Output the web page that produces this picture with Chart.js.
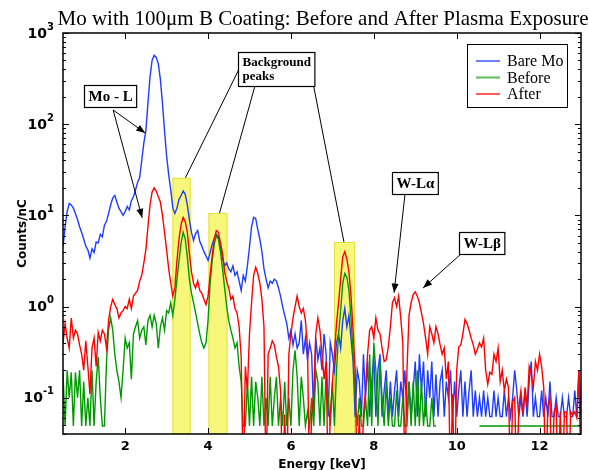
<!DOCTYPE html>
<html>
<head>
<meta charset="utf-8">
<title>Mo with 100μm B Coating: Before and After Plasma Exposure</title>
<script src="https://cdn.jsdelivr.net/npm/chart.js@4.4.1/dist/chart.umd.min.js"></script>
<style>
  html, body { margin: 0; padding: 0; background: #fff; }
  #wrap { width: 589px; height: 470px; }
</style>
</head>
<body>
<div id="wrap"><canvas id="spectrum" width="589" height="470"></canvas></div>
<script>
// detector channels: 0.5 keV .. 13 keV, 0.05 keV per bin
const ENERGY_START = 0.5;
const ENERGY_STEP = 0.05;

// counts/nC per bin (0.01 = empty bin, falls below the axis; null = no data)
const BARE_MO = [
  4.5, 7.5, 11, 13.5, 13, 12, 10.5, 9, 7.5, 6.5,          // 0.5
  5.5, 4.6, 4.2, 3.4, 4.3, 3.9, 5.1, 5.0, 6.2, 5.8,       // 1.0
  7.8, 8.6, 10.5, 13, 15.5, 16.5, 14, 12, 11, 10,         // 1.5
  11, 12.5, 11.5, 14.5, 16, 19, 23, 26, 40, 62,           // 2.0
  85, 170, 330, 500, 570, 540, 460, 310, 170, 85,         // 2.5
  45, 28, 19, 12, 10.5, 12, 15, 16.5, 18.5, 17,           // 3.0
  13, 9, 6.5, 5.3, 6.3, 6.8, 5.2, 4.6, 4.0, 3.6,          // 3.5
  3.2, 3.9, 4.8, 5.6, 6.2, 5.8, 4.6, 3.4, 2.8, 3.0,       // 4.0
  2.6, 2.4, 2.8, 2.2, 2.4, 1.9, 1.5, 2.2, 1.9, 2.8,       // 4.5
  4.5, 7.5, 9.5, 9.2, 7, 5.5, 4.0, 2.6, 2.0, 1.6,         // 5.0
  1.9, 1.8, 2.0, 1.9, 1.6, 1.3, 1.0, 0.8, 0.65, 0.45,     // 5.5
  0.55, 0.38, 0.5, 0.35, 0.4, 0.7, 0.3, 0.45, 0.26, 0.4,  // 6.0
  0.3, 0.062, 0.45, 0.26, 0.35, 0.2, 0.5, 0.3, 0.062, 0.4, // 6.5
  0.3, 0.2, 0.4, 0.5, 0.35, 0.7, 0.95, 0.6, 0.8, 0.45,    // 7.0
  0.25, 0.062, 0.2, 0.15, 0.062, 0.3, 0.1, 0.25, 0.062, 0.15, // 7.5
  0.3, 0.062, 0.2, 0.3, 0.062, 0.12, 0.2, 0.062, 0.15, 0.062, // 8.0
  0.12, 0.2, 0.062, 0.15, 0.1, 0.2, 0.062, 0.15, 0.062, 0.12, // 8.5
  0.25, 0.062, 0.3, 0.12, 0.25, 0.062, 0.2, 0.1, 0.25, 0.062, // 9.0
  0.18, 0.062, 0.15, 0.2, 0.062, 0.15, 0.1, 0.2, 0.062, 0.15, // 9.5
  0.062, 0.12, 0.2, 0.062, 0.15, 0.062, 0.12, 0.2, 0.062, 0.12, // 10.0
  0.062, 0.1, 0.062, 0.12, 0.062, 0.1, 0.062, 0.062, 0.12, 0.062, // 10.5
  0.1, 0.062, 0.062, 0.12, 0.062, 0.1, 0.062, 0.1, 0.2, 0.12,   // 11.0
  0.062, 0.1, 0.062, 0.12, 0.062, 0.15, 0.25, 0.062, 0.1, 0.062, // 11.5
  0.062, 0.12, 0.062, 0.1, 0.062, 0.15, 0.062, 0.062, 0.1, 0.062, // 12.0
  0.062, 0.1, 0.062, 0.062, 0.1, 0.062, 0.062, 0.12, 0.062, 0.2,  // 12.5
  0.062                                                    // 13.0
];

const BEFORE = [
  0.19, 0.049, 0.2, 0.1, 0.19, 0.049, 0.19, 0.1, 0.2, 0.049,   // 0.5
  0.15, 0.049, 0.1, 0.049, 0.2, 0.049, 0.15, 0.28, 0.1, 0.049, // 1.0
  0.049, 0.25, 0.55, 0.75, 0.55, 0.3, 0.2, 0.15, 0.1, 0.2,     // 1.5
  0.45, 0.35, 0.4, 0.16, 0.5, 0.6, 0.7, 0.45, 0.55, 0.6,       // 2.0
  0.38, 0.7, 0.8, 0.6, 0.8, 0.65, 0.35, 0.6, 0.75, 0.55,       // 2.5
  0.9, 0.85, 1.1, 0.8, 1.2, 2.0, 3.2, 5.0, 6.5, 5.5,           // 3.0
  3.5, 2.0, 1.4, 1.1, 0.85, 0.65, 0.5, 0.4, 0.35, 0.4,         // 3.5
  0.7, 1.8, 3.2, 4.8, 6.0, 5.5, 4.0, 2.6, 1.6, 1.0,            // 4.0
  0.7, 0.55, 0.45, 0.35, 0.4, 0.22, 0.15, 0.049, 0.049, 0.15,  // 4.5
  0.049, 0.17, 0.049, 0.15, 0.1, 0.049, 0.17, 0.049, 0.1, 0.049, // 5.0
  0.17, 0.049, 0.1, 0.17, 0.049, 0.1, 0.049, 0.15, 0.049, 0.1,   // 5.5
  0.049, 0.2, 0.33, 0.17, 0.049, 0.17, 0.1, 0.049, 0.07, 0.049,  // 6.0
  0.1, 0.049, 0.2, 0.15, 0.049, 0.17, 0.049, 0.2, 0.1, 0.049,    // 6.5
  0.15, 0.049, 0.2, 0.5, 0.9, 1.8, 2.3, 2.1, 1.5, 0.75,          // 7.0
  0.3, 0.1, 0.049, 0.1, 0.049, 0.049, 0.1, 0.049, 0.3, 0.049,    // 7.5
  0.4, 0.2, 0.049, 0.25, 0.1, 0.049, 0.15, 0.049, 0.1, 0.049,    // 8.0
  0.049, 0.12, 0.049, 0.049, 0.1, 0.049, 0.049, 0.15, 0.049, 0.15, // 8.5
  0.049, 0.2, 0.049, 0.15, 0.049, 0.1, 0.049, 0.049, 0.1, 0.049,   // 9.0
  0.049, null, null, null, null, null, null, null, null, null,     // 9.5
  null, null, null, null, null, null, null, null, null, null,      // 10.0
  null, 0.049, 0.049, 0.049, 0.049, 0.049, 0.049, 0.049, 0.049, 0.049, // 10.5
  0.049, 0.049, 0.049, 0.049, 0.049, 0.049, 0.049, 0.049, 0.049, 0.049, // 11.0
  0.049, 0.049, 0.049, 0.049, 0.049, 0.049, 0.049, 0.049, 0.049, 0.049, // 11.5
  0.049, 0.049, 0.049, 0.049, 0.049, 0.049, 0.049, 0.049, 0.049, 0.049, // 12.0
  0.049, 0.049, 0.049, 0.049, 0.049, 0.049, 0.049, 0.049, 0.049, 0.049, // 12.5
  0.049                                                                  // 13.0
];

const AFTER = [
  0.4, 0.65, 0.45, 0.35, 0.75, 0.45, 0.55, 0.5, 0.38, 0.3,     // 0.5
  0.2, 0.42, 0.22, 0.11, 0.35, 0.45, 0.22, 0.52, 0.42, 0.55,   // 1.0
  0.5, 0.35, 0.7, 1.0, 1.2, 1.05, 0.95, 0.75, 0.85, 0.9,       // 1.5
  1.0, 0.95, 1.2, 0.95, 1.3, 1.4, 1.5, 1.9, 2.2, 3.0,          // 2.0
  4.2, 7.5, 13, 18, 20, 18.5, 16, 14, 10, 6.5,                 // 2.5
  4.2, 2.6, 1.8, 1.3, 1.6, 3.2, 5.5, 8, 9.5, 8.5,              // 3.0
  6.5, 3.8, 2.4, 1.8, 1.6, 1.9, 1.5, 1.4, 1.2, 1.05,           // 3.5
  1.3, 2.2, 3.6, 5.5, 6.8, 6.5, 5.0, 3.8, 2.4, 1.9,            // 4.0
  1.6, 1.2, 1.3, 0.95, 0.85, 0.6, 0.28, 0.01, 0.22, 0.12,      // 4.5
  0.5, 1.1, 2.2, 2.7, 2.3, 1.8, 1.2, 0.6, 0.01, 0.3,           // 5.0
  0.35, 0.42, 0.38, 0.28, 0.22, 0.12, 0.01, 0.065, 0.01, 0.3,  // 5.5
  0.5, 0.75, 1.0, 1.3, 1.0, 0.85, 0.95, 0.7, 0.36, 0.01,       // 6.0
  0.065, 0.11, 0.5, 0.75, 0.55, 0.3, 0.16, 0.25, 0.01, 0.065,  // 6.5
  0.14, 0.3, 0.65, 1.1, 2.0, 3.5, 4.0, 3.3, 2.4, 1.3,          // 7.0
  0.55, 0.2, 0.01, 0.065, 0.01, 0.065, 0.12, 0.3, 0.55, 0.6,   // 7.5
  0.45, 0.75, 0.55, 0.5, 0.35, 0.25, 0.26, 0.36, 0.6, 1.1,     // 8.0
  1.25, 1.0, 1.3, 0.75, 0.4, 0.01, 0.2, 0.8, 1.1, 1.35,        // 8.5
  1.45, 1.3, 1.1, 0.85, 0.65, 0.45, 0.3, 0.6, 0.5, 0.4,        // 9.0
  0.6, 0.5, 0.38, 0.3, 0.35, 0.16, 0.25, 0.01, 0.11, 0.01,     // 9.5
  0.2, 0.36, 0.38, 0.5, 0.72, 0.65, 0.55, 0.45, 0.38, 0.3,     // 10.0
  0.34, 0.4, 0.36, 0.45, 0.2, 0.14, 0.19, 0.18, 0.3, 0.25,     // 10.5
  0.35, 0.15, 0.2, 0.12, 0.16, 0.13, 0.01, 0.09, 0.1, 0.01,    // 11.0
  0.08, 0.12, 0.065, 0.13, 0.08, 0.22, 0.18, 0.13, 0.25, 0.2,  // 11.5
  0.3, 0.22, 0.13, 0.01, 0.08, 0.1, 0.01, 0.07, 0.08, 0.01,    // 12.0
  0.07, 0.01, 0.07, 0.07, 0.01, 0.07, 0.065, 0.07, 0.06, 0.2,  // 12.5
  0.01                                                          // 13.0
];

const SERIES_LABELS = ['Bare Mo', 'Before', 'After'];
const SERIES_COLORS = ['#1f3cff', '#009a00', '#ff0000'];

const X_TICKS = [2, 4, 6, 8, 10, 12];
const Y_DECADES = [0.1, 1, 10, 100, 1000];
const Y_EXPONENTS = ['-1', '0', '1', '2', '3'];

// highlighted background lines: [from keV, to keV, top in counts/nC]
const BANDS = [[3.14, 3.58, 25.8], [4.01, 4.47, 10.6], [7.04, 7.55, 5.1]];

const SERIF = '"Liberation Serif", "Times New Roman", serif';
const SANS = '"DejaVu Sans", Verdana, sans-serif';

// callouts, all anchored in data coordinates (keV, counts/nC)
const NOTES = [
  { text: ['Mo - L'], size: 15, at: [1.64, 206], arrow: true,
    lines: [[1.71, 143, 2.485, 80], [1.71, 143, 2.41, 9.4]] },
  { text: ['Background', 'peaks'], size: 13, at: [5.645, 398], arrow: false,
    lines: [[4.737, 393, 3.454, 25.8], [5.125, 256, 4.277, 10.6], [6.553, 256, 7.28, 5.1]] },
  { text: ['W-Lα'], size: 15, at: [9.0, 22.7], arrow: true,
    lines: [[8.757, 17.7, 8.49, 1.42]] },
  { text: ['W-Lβ'], size: 15, at: [10.6, 5.0], arrow: true,
    lines: [[10.11, 3.79, 9.19, 1.6]] }
];

function toPoints(values) {
  return values.map(function (v, i) {
    return { x: +(ENERGY_START + i * ENERGY_STEP).toFixed(2), y: v };
  });
}

const bandPlugin = {
  id: 'bands',
  beforeDatasetsDraw: function (chart) {
    const ctx = chart.ctx, a = chart.chartArea, x = chart.scales.x, y = chart.scales.y;
    ctx.save();
    BANDS.forEach(function (b) {
      const l = x.getPixelForValue(b[0]);
      const r = x.getPixelForValue(b[1]);
      const t = y.getPixelForValue(b[2]);
      ctx.fillStyle = '#f7f77c';
      ctx.fillRect(l, t, r - l, a.bottom - t);
      ctx.strokeStyle = '#e2e23a';
      ctx.lineWidth = 1;
      ctx.strokeRect(l + 0.5, t + 0.5, r - l - 1, a.bottom - t - 1);
    });
    ctx.restore();
  }
};

// frame with inward ticks on all four sides, plus the 10^n labels
const framePlugin = {
  id: 'frame',
  afterDatasetsDraw: function (chart) {
    const ctx = chart.ctx, a = chart.chartArea, x = chart.scales.x, y = chart.scales.y;
    ctx.save();
    ctx.strokeStyle = '#000';
    ctx.lineWidth = 1;
    ctx.beginPath();
    X_TICKS.forEach(function (v) {
      const px = Math.round(x.getPixelForValue(v)) + 0.5;
      ctx.moveTo(px, a.bottom); ctx.lineTo(px, a.bottom - 6);
      ctx.moveTo(px, a.top); ctx.lineTo(px, a.top + 6);
    });
    for (let d = -2; d <= 3; d++) {
      for (let m = 1; m <= 9; m++) {
        const v = m * Math.pow(10, d);
        if (v < y.min * 0.999 || v > y.max * 1.001) continue;
        const py = Math.round(y.getPixelForValue(v)) + 0.5;
        const len = m === 1 ? 6 : 3;
        ctx.moveTo(a.left, py); ctx.lineTo(a.left + len, py);
        ctx.moveTo(a.right, py); ctx.lineTo(a.right - len, py);
      }
    }
    ctx.stroke();
    ctx.lineWidth = 1.5;
    ctx.strokeRect(a.left, a.top, a.right - a.left, a.bottom - a.top);

    // y labels: base and raised exponent
    ctx.fillStyle = '#000';
    ctx.textBaseline = 'middle';
    Y_DECADES.forEach(function (v, i) {
      const py = y.getPixelForValue(v);
      const right = a.left - 9;
      ctx.font = 'bold 10px ' + SANS;
      ctx.textAlign = 'right';
      ctx.fillText(Y_EXPONENTS[i], right, py - 6);
      const ew = ctx.measureText(Y_EXPONENTS[i]).width;
      ctx.font = 'bold 14px ' + SANS;
      ctx.fillText('10', right - ew, py + 1);
    });
    ctx.restore();
  }
};

function arrowHead(ctx, x0, y0, x1, y1) {
  const ang = Math.atan2(y1 - y0, x1 - x0);
  const len = 9, half = 3.5;
  ctx.beginPath();
  ctx.moveTo(x1, y1);
  ctx.lineTo(x1 - len * Math.cos(ang) + half * Math.sin(ang), y1 - len * Math.sin(ang) - half * Math.cos(ang));
  ctx.lineTo(x1 - len * Math.cos(ang) - half * Math.sin(ang), y1 - len * Math.sin(ang) + half * Math.cos(ang));
  ctx.closePath();
  ctx.fill();
}

const notesPlugin = {
  id: 'notes',
  afterDraw: function (chart) {
    const ctx = chart.ctx, x = chart.scales.x, y = chart.scales.y;
    ctx.save();
    ctx.strokeStyle = '#000';
    ctx.fillStyle = '#000';
    NOTES.forEach(function (n) {
      n.lines.forEach(function (s) {
        const x0 = x.getPixelForValue(s[0]), y0 = y.getPixelForValue(s[1]);
        const x1 = x.getPixelForValue(s[2]), y1 = y.getPixelForValue(s[3]);
        ctx.lineWidth = 1;
        ctx.beginPath();
        ctx.moveTo(x0, y0);
        ctx.lineTo(x1, y1);
        ctx.stroke();
        if (n.arrow) arrowHead(ctx, x0, y0, x1, y1);
      });
      ctx.font = 'bold ' + n.size + 'px ' + SERIF;
      const lineH = n.size + 1;
      const padX = 4, padY = 3;
      const tw = Math.max.apply(null, n.text.map(function (t) { return ctx.measureText(t).width; }));
      const w = tw + padX * 2, h = lineH * n.text.length + padY * 2;
      const cx = x.getPixelForValue(n.at[0]), cy = y.getPixelForValue(n.at[1]);
      const left = Math.round(cx - w / 2), top = Math.round(cy - h / 2);
      ctx.fillStyle = '#fff';
      ctx.fillRect(left, top, w, h);
      ctx.lineWidth = 1.2;
      ctx.strokeRect(left + 0.5, top + 0.5, w, h);
      ctx.fillStyle = '#000';
      ctx.textAlign = 'left';
      ctx.textBaseline = 'middle';
      n.text.forEach(function (t, i) {
        ctx.fillText(t, left + padX + 0.5, top + padY + lineH * (i + 0.5) + 1);
      });
    });
    ctx.restore();
  }
};

const legendPlugin = {
  id: 'boxLegend',
  afterDraw: function (chart) {
    const ctx = chart.ctx, a = chart.chartArea;
    const w = 100, h = 63;
    const left = Math.round(a.right - 14 - w), top = Math.round(a.top + 11);
    ctx.save();
    ctx.fillStyle = '#fff';
    ctx.fillRect(left, top, w, h);
    ctx.strokeStyle = '#000';
    ctx.lineWidth = 1;
    ctx.strokeRect(left + 0.5, top + 0.5, w, h);
    ctx.font = '16px ' + SERIF;
    ctx.textBaseline = 'middle';
    chart.data.datasets.forEach(function (ds, i) {
      const yy = top + 17 + i * 16.5;
      ctx.globalAlpha = 0.65;
      ctx.strokeStyle = ds.borderColor;
      ctx.lineWidth = 2;
      ctx.beginPath();
      ctx.moveTo(left + 9, yy);
      ctx.lineTo(left + 33, yy);
      ctx.stroke();
      ctx.globalAlpha = 1;
      ctx.fillStyle = '#000';
      ctx.fillText(ds.label, left + 40, yy + 1);
    });
    ctx.restore();
  }
};

const titlePlugin = {
  id: 'plotTitle',
  afterDraw: function (chart) {
    const ctx = chart.ctx, a = chart.chartArea;
    ctx.save();
    ctx.font = '21px ' + SERIF;
    ctx.fillStyle = '#000';
    ctx.textAlign = 'center';
    ctx.textBaseline = 'alphabetic';
    ctx.fillText('Mo with 100μm B Coating: Before and After Plasma Exposure', (a.left + a.right) / 2 + 1, 25);
    ctx.restore();
  }
};

const seriesData = [BARE_MO, BEFORE, AFTER];

new Chart(document.getElementById('spectrum'), {
  type: 'line',
  data: {
    datasets: seriesData.map(function (vals, i) {
      return {
        label: SERIES_LABELS[i],
        data: toPoints(vals),
        borderColor: SERIES_COLORS[i],
        borderWidth: 1.4,
        pointRadius: 0,
        tension: 0,
        spanGaps: false,
        order: 3 - i
      };
    })
  },
  options: {
    responsive: false,
    animation: false,
    events: [],
    layout: { padding: { top: 33, right: 8, left: 0, bottom: 0 } },
    plugins: {
      legend: { display: false },
      title: { display: false },
      tooltip: { enabled: false }
    },
    scales: {
      x: {
        type: 'linear',
        min: 0.5,
        max: 13,
        afterBuildTicks: function (s) { s.ticks = X_TICKS.map(function (v) { return { value: v }; }); },
        afterFit: function (s) { s.height = 36; },
        grid: { display: false, drawTicks: false },
        border: { display: false },
        ticks: { padding: 5, color: '#000', maxRotation: 0, autoSkip: false,
          font: { family: SANS, size: 13, weight: 'bold' } },
        title: { display: true, text: 'Energy [keV]', color: '#000',
          font: { family: SANS, size: 12, weight: 'bold' }, padding: { top: 0, bottom: -2 } }
      },
      y: {
        type: 'logarithmic',
        min: 0.04,
        max: 1000,
        afterBuildTicks: function (s) { s.ticks = Y_DECADES.map(function (v) { return { value: v, major: true }; }); },
        afterFit: function (s) { s.width = 63; },
        grid: { display: false, drawTicks: false },
        border: { display: false },
        ticks: { display: false },
        title: { display: true, text: 'Counts/nC', color: '#000',
          font: { family: SANS, size: 12, weight: 'bold' }, padding: { top: 16, bottom: 0 } }
      }
    }
  },
  plugins: [bandPlugin, framePlugin, notesPlugin, legendPlugin, titlePlugin]
});
</script>
</body>
</html>
